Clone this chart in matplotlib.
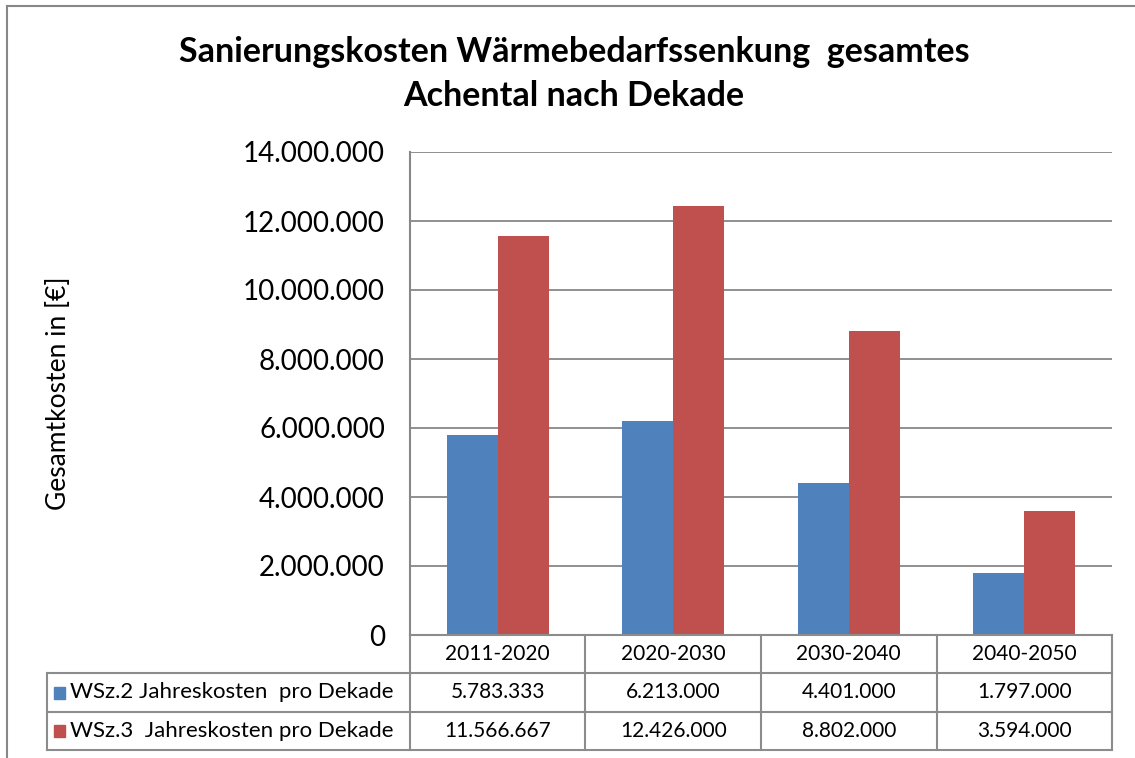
#!/usr/bin/env python
"""Sanierungskosten chart with data table."""
import numpy as np
import matplotlib
matplotlib.use("Agg")
import matplotlib.pyplot as plt
from matplotlib.lines import Line2D
from matplotlib.patches import Rectangle

# data
decades = ["2011-2020", "2020-2030", "2030-2040", "2040-2050"]
series_names = ["WSz.2 Jahreskosten  pro Dekade", "WSz.3  Jahreskosten pro Dekade"]
wsz2 = [5783333, 6213000, 4401000, 1797000]
wsz3 = [11566667, 12426000, 8802000, 3594000]
yticks = [0, 2000000, 4000000, 6000000, 8000000, 10000000, 12000000, 14000000]

colors = ["#4F81BD", "#C0504D"]
grid_col = "#878787"
W, H = 1135, 758

plt.rcParams['font.family'] = ['Lato', 'DejaVu Sans']


def fx(x):
    return x / W


def fy(y):
    return 1 - y / H


def de(v):
    # german thousands separator
    return f"{v:,}".replace(",", ".")


fig = plt.figure(figsize=(W / 100, H / 100), dpi=100)

# outer chart frame (left and top only visible)
fig.add_artist(Line2D([fx(7), fx(7)], [fy(6), fy(758)], color=grid_col, lw=1.5))
fig.add_artist(Line2D([fx(7), fx(1135)], [fy(6), fy(6)], color=grid_col, lw=1.5))

# plot area
left, right, top, bottom = 410, 1112, 152, 635
ax = fig.add_axes([fx(left), fy(bottom), fx(right - left), (bottom - top) / H])

x = np.arange(len(decades))
w = 0.29
ax.bar(x - w / 2, wsz2, w, color=colors[0], zorder=3)
ax.bar(x + w / 2, wsz3, w, color=colors[1], zorder=3)
ax.set_xlim(-0.5, len(decades) - 0.5)
ax.set_ylim(0, 14000000)
ax.set_yticks(yticks)
ax.set_yticklabels([de(v) for v in yticks], fontsize=20)
ax.tick_params(axis='y', length=0, pad=18)
ax.set_xticks([])
ax.yaxis.grid(True, color=grid_col, lw=1.3, zorder=0)
for s in ["top", "right", "bottom"]:
    ax.spines[s].set_visible(False)
ax.spines["left"].set_color(grid_col)
ax.spines["left"].set_linewidth(1.5)

# title and axis label
fig.text(fx(574), fy(52), "Sanierungskosten Wärmebedarfssenkung  gesamtes",
         ha="center", va="center", fontsize=24.5, fontweight="bold")
fig.text(fx(574), fy(96), "Achental nach Dekade",
         ha="center", va="center", fontsize=24.5, fontweight="bold")
fig.text(fx(58), fy(393), "Gesamtkosten in [€]", ha="center", va="center",
         rotation=90, fontsize=19)

# data table
rows_y = [635, 673, 712, 750]
col_w = (right - left) / len(decades)
col_x = [left + i * col_w for i in range(len(decades) + 1)]
leg_left = 47
lc = "#8c8c8c"
lw = 1.5

for yy in rows_y:
    x0 = left if yy == rows_y[0] else leg_left
    fig.add_artist(Line2D([fx(x0), fx(right)], [fy(yy), fy(yy)], color=lc, lw=lw))
for xx in col_x:
    fig.add_artist(Line2D([fx(xx), fx(xx)], [fy(rows_y[0]), fy(rows_y[-1])], color=lc, lw=lw))
fig.add_artist(Line2D([fx(leg_left), fx(leg_left)], [fy(rows_y[1]), fy(rows_y[-1])], color=lc, lw=lw))

for i, d in enumerate(decades):
    cx = col_x[i] + col_w / 2
    fig.text(fx(cx), fy((rows_y[0] + rows_y[1]) / 2), d, ha="center", va="center", fontsize=15)

for r, (name, vals) in enumerate(zip(series_names, [wsz2, wsz3])):
    cy = (rows_y[r + 1] + rows_y[r + 2]) / 2
    fig.add_artist(Rectangle((fx(54), fy(cy + 6)), fx(11), 12 / H, color=colors[r]))
    fig.text(fx(70), fy(cy), name, ha="left", va="center", fontsize=16)
    for i, v in enumerate(vals):
        cx = col_x[i] + col_w / 2
        fig.text(fx(cx), fy(cy), de(v), ha="center", va="center", fontsize=15)

fig.savefig("out.png", dpi=100)
